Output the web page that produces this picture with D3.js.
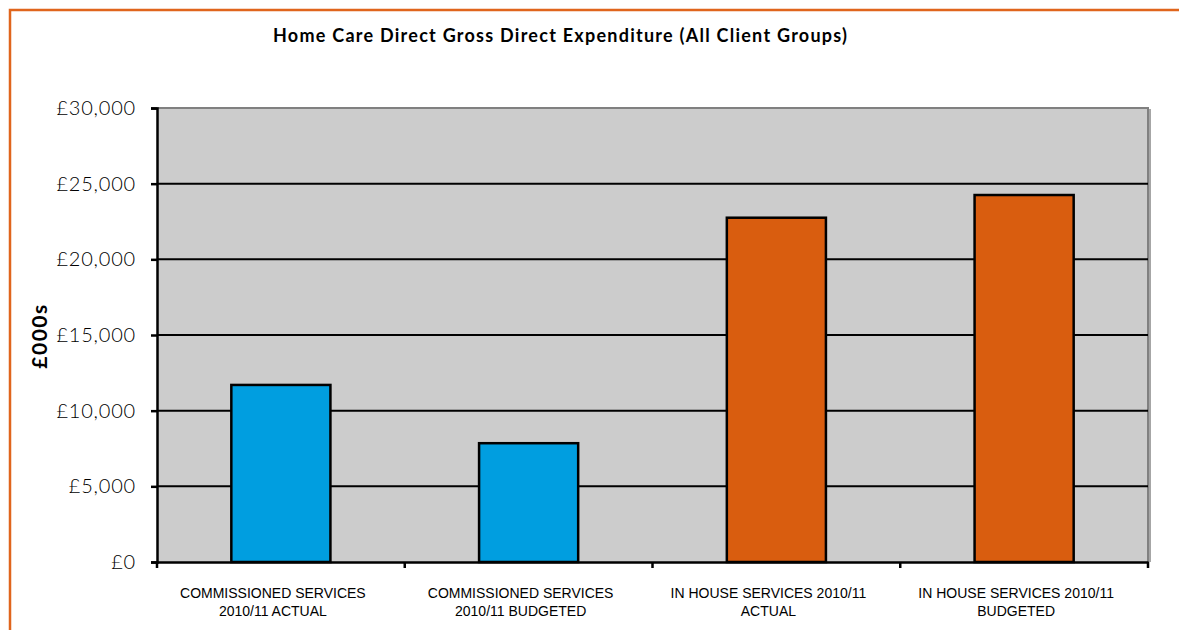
<!DOCTYPE html>
<html>
<head>
<meta charset="utf-8">
<script src="https://cdn.jsdelivr.net/npm/d3@7"></script>
<style>
  body { margin: 0; background: #fff; }
  svg { display: block; font-family: Lato, "Open Sans", sans-serif; }
</style>
</head>
<body>
<svg id="chart"></svg>
<script>
var width = 1179, height = 630;

// chart data
var categories = ["COMMISSIONED SERVICES 2010/11 ACTUAL", "COMMISSIONED SERVICES 2010/11 BUDGETED",
                  "IN HOUSE SERVICES 2010/11 ACTUAL", "IN HOUSE SERVICES 2010/11 BUDGETED"];
var labelLines = [["COMMISSIONED SERVICES", "2010/11 ACTUAL"],
                  ["COMMISSIONED SERVICES", "2010/11 BUDGETED"],
                  ["IN HOUSE SERVICES 2010/11", "ACTUAL"],
                  ["IN HOUSE SERVICES 2010/11", "BUDGETED"]];
var values = [11700, 7850, 22750, 24250];
var barColors = ["#009ee0", "#009ee0", "#d95d0f", "#d95d0f"];
var yTicks = [0, 5000, 10000, 15000, 20000, 25000, 30000];

var margin = { top: 108, right: 31, bottom: 68, left: 157 };
var innerW = width - margin.left - margin.right,
    innerH = height - margin.top - margin.bottom;

var svg = d3.select("#chart")
  .attr("width", width)
  .attr("height", height);

// orange frame (top and left edges only are visible)
svg.append("path")
  .attr("d", "M10,640V10H1179")
  .attr("fill", "none")
  .attr("stroke", "#e0651c")
  .attr("stroke-width", 2.5);

svg.append("text")
  .attr("x", 273).attr("y", 42)
  .attr("font-weight", "bold")
  .attr("font-size", 18)
  .attr("textLength", 574)
  .attr("lengthAdjust", "spacing")
  .text("Home Care Direct Gross Direct Expenditure (All Client Groups)");

var x = d3.scaleBand().domain(categories).range([0, innerW]).paddingInner(0.6).paddingOuter(0.3);
var xCat = d3.scaleBand().domain(categories).range([0, innerW]);
var y = d3.scaleLinear().domain([0, 30000]).range([innerH, 0]);

var g = svg.append("g").attr("transform", "translate(" + margin.left + "," + margin.top + ")");

// plot background with grey frame
g.append("rect")
  .attr("width", innerW).attr("height", innerH)
  .attr("fill", "#cccccc");
g.append("path")
  .attr("d", "M0,0H" + innerW + "V" + innerH)
  .attr("fill", "none")
  .attr("stroke", "#808080")
  .attr("stroke-width", 2);
g.append("line")
  .attr("x1", innerW + 2).attr("x2", innerW + 2)
  .attr("y1", 1).attr("y2", innerH)
  .attr("stroke", "#a6a6a6").attr("stroke-width", 2);

// gridlines
g.selectAll(".grid")
  .data(yTicks.filter(function (d) { return d > 0 && d < 30000; }))
  .enter().append("line")
  .attr("x1", 0).attr("x2", innerW)
  .attr("y1", function (d) { return y(d); })
  .attr("y2", function (d) { return y(d); })
  .attr("stroke", "#000").attr("stroke-width", 2);

// bars
g.selectAll(".bar")
  .data(values)
  .enter().append("rect")
  .attr("x", function (d, i) { return x(categories[i]); })
  .attr("y", function (d) { return y(d); })
  .attr("width", x.bandwidth())
  .attr("height", function (d) { return innerH - y(d); })
  .attr("fill", function (d, i) { return barColors[i]; })
  .attr("stroke", "#000")
  .attr("stroke-width", 2.5);

// y axis
var yAxis = g.append("g")
  .call(d3.axisLeft(y).tickValues(yTicks).tickSize(6).tickPadding(15)
    .tickFormat(function (d) { return "£" + d3.format(",")(d); }));
yAxis.select(".domain").attr("stroke", "#000").attr("stroke-width", 2.5);
yAxis.selectAll(".tick line").attr("stroke", "#000").attr("stroke-width", 2.5);
yAxis.selectAll(".tick text")
  .attr("font-size", 20)
  .attr("font-weight", 300)
  .attr("letter-spacing", 0.8)
  .attr("fill", "#000")
  .attr("font-family", "Lato, sans-serif");

// x axis
var xAxis = g.append("g")
  .attr("transform", "translate(0," + innerH + ")")
  .call(d3.axisBottom(xCat).tickSize(0).tickFormat(""));
xAxis.select(".domain").attr("stroke", "#000").attr("stroke-width", 2.5);
xAxis.selectAll(".tick").remove();

var bounds = categories.map(function (c) { return xCat(c); }).concat([innerW]);
xAxis.selectAll(".xtick")
  .data(bounds)
  .enter().append("line")
  .attr("x1", function (d) { return d; }).attr("x2", function (d) { return d; })
  .attr("y1", 0).attr("y2", 6)
  .attr("stroke", "#000").attr("stroke-width", 2.5);

var labels = xAxis.selectAll(".xlab")
  .data(categories)
  .enter().append("text")
  .attr("text-anchor", "middle")
  .attr("font-size", 14)
  .attr("fill", "#000")
  .attr("transform", function (d) { return "translate(" + (xCat(d) + xCat.bandwidth() / 2 - 8) + ",36)"; });
labels.each(function (d, i) {
  var t = d3.select(this);
  labelLines[i].forEach(function (line, j) {
    t.append("tspan").attr("x", 0).attr("dy", j === 0 ? 0 : 18).text(line);
  });
});

// y axis title
svg.append("text")
  .attr("transform", "translate(47,336) rotate(-90)")
  .attr("text-anchor", "middle")
  .attr("font-weight", "bold")
  .attr("font-size", 21)
  .attr("letter-spacing", 1.5)
  .text("£000s");
</script>
</body>
</html>
